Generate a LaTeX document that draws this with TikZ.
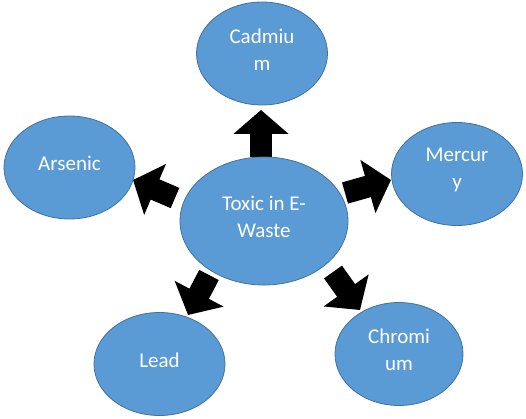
\documentclass[tikz,border=0pt]{standalone}
\usepackage{fontspec}
\setmainfont{Carlito}
\usetikzlibrary{shapes.geometric,arrows.meta}
\definecolor{bubble}{HTML}{5B9BD5}
\definecolor{bubbleedge}{HTML}{41719C}
\tikzset{
  bubble/.style={ellipse, fill=bubble, draw=bubbleedge, line width=0.8pt, inner sep=0pt},
  small/.style={bubble, minimum width=131pt, minimum height=103pt},
  txt/.style={text=white, align=center, font=\fontsize{21}{26.5}\selectfont, inner sep=0pt, yshift=4pt},
  blockarrow/.style={line width=22pt, black, -{Triangle[length=24pt,width=54pt]}}
}
\begin{document}
\begin{tikzpicture}[x=1pt,y=-1pt]
\useasboundingbox (0,0) rectangle (526,419);
% arrow end points
\coordinate (s1) at (261,157); \coordinate (e1) at (261,110);
\coordinate (s2) at (175,198); \coordinate (e2) at (133,180);
\coordinate (s3) at (345,193); \coordinate (e3) at (391,180);
\coordinate (s4) at (209,275); \coordinate (e4) at (188,315);
\coordinate (s5) at (333,272); \coordinate (e5) at (360,310);
\draw[blockarrow] (s1) -- (e1);
\draw[blockarrow] (s2) -- (e2);
\draw[blockarrow] (s3) -- (e3);
\draw[blockarrow] (s4) -- (e4);
\draw[blockarrow] (s5) -- (e5);
% ellipses
\node[bubble, minimum width=168pt, minimum height=128pt] (c) at (264,221) {};
\node[small] (cd) at (262,53.5) {};
\node[small] (as) at (69.5,167.5) {};
\node[small] (hg) at (457,174) {};
\node[small] (pb) at (159.5,364) {};
\node[small, minimum width=128pt] (cr) at (399,354) {};
% texts
\node[txt] (tc) at (c) {Toxic in E-\\Waste};
\node[txt] (tcd) at (cd) {Cadmiu\\m};
\node[txt] (tas) at (as) {Arsenic};
\node[txt] (thg) at (hg) {Mercur\\y};
\node[txt] (tpb) at (pb) {Lead};
\node[txt] (tcr) at (cr) {Chromi\\um};
\end{tikzpicture}
\end{document}
